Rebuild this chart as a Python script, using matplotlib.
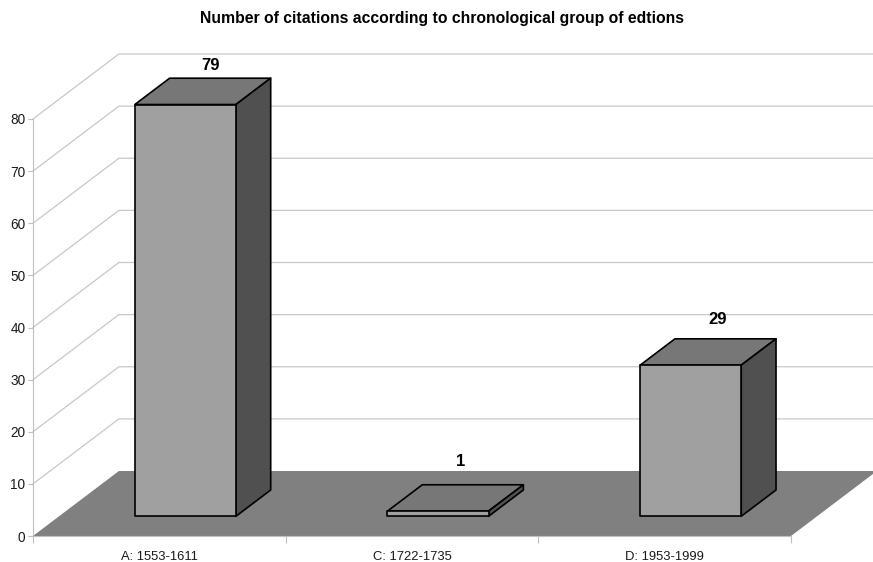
# -*- coding: utf-8 -*-
import matplotlib
matplotlib.use('Agg')
import matplotlib.pyplot as plt
from matplotlib.patches import Polygon

plt.rcParams['font.family'] = ['Liberation Sans', 'DejaVu Sans']

categories = ['A: 1553-1611', 'C: 1722-1735', 'D: 1953-1999']
citations = [79, 1, 29]
y_ticks = [0, 10, 20, 30, 40, 50, 60, 70, 80]

# oblique "3d" look: depth 0 is the front edge, depth 1 the back wall
depth_x = 0.34
depth_y = 12.47
bar_width = 0.4
bar_front = 0.303
bar_depth = 0.405
label_gap = [2.4, 4.4, 3.8]     # space above the back of each bar
label_shift = [0.098, 0.09, 0.108]


def proj(x, v, d):
    return (x + d * depth_x, v + d * depth_y)


def face(points, color, edge='black', lw=1.2, z=2):
    poly = Polygon([proj(*p) for p in points], closed=True, facecolor=color,
                   edgecolor=edge, linewidth=lw, joinstyle='round',
                   clip_on=False, zorder=z)
    ax.add_patch(poly)


fig = plt.figure(figsize=(8.73, 5.62), dpi=100)
ax = fig.add_axes([33 / 873, 26 / 562, 758 / 873, 417 / 562])
ax.set_xlim(-0.5, 2.5)
ax.set_ylim(0, 80)

# walls
for v in y_ticks[1:]:
    xs, ys = zip(proj(-0.5, v, 0), proj(-0.5, v, 1), proj(2.5, v, 1))
    ax.plot(xs, ys, color='#c8c8c8', lw=0.9, clip_on=False, zorder=1)

# floor
face([(-0.5, 0, 0), (-0.5, 0, 1), (2.5, 0, 1), (2.5, 0, 0)], '#808080',
     edge='none', lw=0, z=1.5)

# bars
for i, val in enumerate(citations):
    x0 = i - bar_width / 2
    x1 = i + bar_width / 2
    d0 = bar_front
    d1 = bar_front + bar_depth
    face([(x0, val, d0), (x0, val, d1), (x1, val, d1), (x1, val, d0)], '#777777')
    face([(x1, 0, d0), (x1, 0, d1), (x1, val, d1), (x1, val, d0)], '#505050')
    face([(x0, 0, d0), (x1, 0, d0), (x1, val, d0), (x0, val, d0)], '#a0a0a0', z=2.1)
    lx, ly = proj(i + label_shift[i], val + label_gap[i], d1)
    ax.text(lx - depth_x * bar_depth, ly, str(val), ha='center', va='center',
            fontsize=12, fontweight='bold', color='black', clip_on=False)

# axes
for s in ['top', 'right']:
    ax.spines[s].set_visible(False)
for s in ['left', 'bottom']:
    ax.spines[s].set_color('#c0c0c0')
    ax.spines[s].set_linewidth(0.8)
    ax.spines[s].set_zorder(3)
ax.set_yticks(y_ticks)
ax.set_xticks([-0.5, 0.5, 1.5, 2.5])
ax.set_xticklabels([])
ax.set_xticks(range(len(categories)), categories, minor=True)
ax.tick_params(axis='y', length=3.5, width=0.8, color='#c0c0c0', labelsize=9.8, pad=2,
               labelcolor='#1a1a1a')
ax.tick_params(axis='x', which='major', length=5, width=0.8, color='#c0c0c0')
ax.tick_params(axis='x', which='minor', length=0, labelsize=9.4, pad=11,
               labelcolor='#1a1a1a')
ax.patch.set_visible(False)

fig.text(442.5 / 873, 1 - 19 / 562, 'Number of citations according to chronological group of edtions',
         ha='center', va='center', fontsize=11.3, fontweight='bold')

fig.savefig('out.png', dpi=100)
